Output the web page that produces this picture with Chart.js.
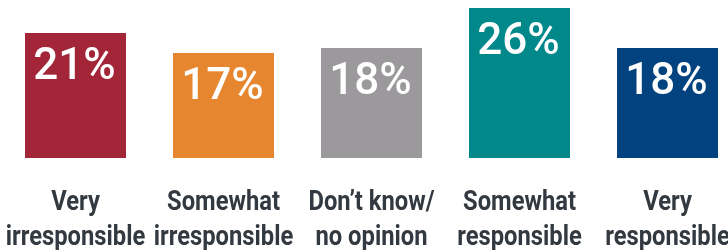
<!DOCTYPE html>
<html>
<head>
<meta charset="utf-8">
<script src="https://cdn.jsdelivr.net/npm/chart.js@4/dist/chart.umd.min.js"></script>
<style>
html, body { margin: 0; padding: 0; overflow: hidden; background: #fff; width: 728px; height: 250px; }
#wrap { position: absolute; left: 0; top: 0; width: 744px; height: 250px; }
</style>
</head>
<body>
<div id="wrap"><canvas id="c"></canvas></div>
<script>
const categories = [
  ["Very", "irresponsible"],
  ["Somewhat", "irresponsible"],
  ["Don\u2019t know/", "no opinion"],
  ["Somewhat", "responsible"],
  ["Very", "responsible"]
];
const values = [21, 17, 18, 26, 18];
const valueLabels = ["21%", "17%", "18%", "26%", "18%"];
const barColors = ["#A32638", "#E6862F", "#9B999C", "#00888A", "#02427F"];

const labelsPlugin = {
  id: 'labelsPlugin',
  afterDatasetsDraw(chart) {
    const ctx = chart.ctx;
    const meta = chart.getDatasetMeta(0);
    const area = chart.chartArea;
    ctx.save();
    // values inside bars
    ctx.fillStyle = '#ffffff';
    ctx.font = '500 44px Roboto, "Open Sans", sans-serif';
    ctx.textAlign = 'center';
    ctx.textBaseline = 'alphabetic';
    meta.data.forEach((bar, i) => {
      ctx.fillText(valueLabels[i], bar.x - 1, bar.y + 46);
    });
    // category labels below (condensed bold)
    ctx.fillStyle = '#333940';
    ctx.font = 'bold 27px Roboto, sans-serif';
    const squeeze = 0.88;
    meta.data.forEach((bar, i) => {
      const lines = chart.data.labels[i];
      lines.forEach((line, j) => {
        ctx.save();
        ctx.translate(bar.x, area.bottom + 52 + j * 35);
        ctx.scale(squeeze, 1);
        ctx.fillText(line, 0, 0);
        ctx.restore();
      });
    });
    ctx.restore();
  }
};

new Chart(document.getElementById('c'), {
  type: 'bar',
  data: {
    labels: categories,
    datasets: [{
      data: values,
      base: -4,
      backgroundColor: barColors,
      borderWidth: 0,
      barPercentage: 1,
      categoryPercentage: 101 / 148
    }]
  },
  options: {
    responsive: true,
    maintainAspectRatio: false,
    animation: false,
    layout: { padding: { top: 8, left: 1.5, right: 2.5, bottom: 92 } },
    plugins: { legend: { display: false }, tooltip: { enabled: false } },
    scales: {
      x: { display: false },
      y: { display: false, min: -4, max: 26 }
    }
  },
  plugins: [labelsPlugin]
});
</script>
</body>
</html>
